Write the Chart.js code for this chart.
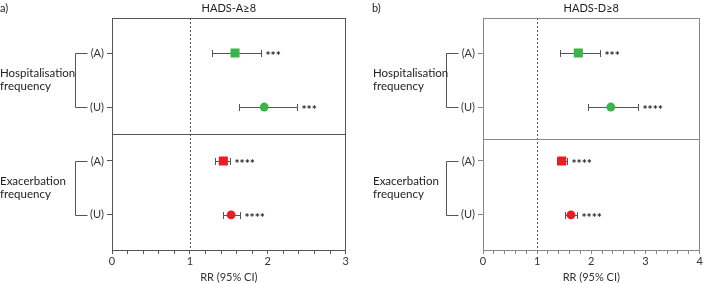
<!DOCTYPE html>
<html>
<head>
<meta charset="utf-8">
<script src="https://cdn.jsdelivr.net/npm/chart.js@4.4.1/dist/chart.umd.min.js"></script>
<style>
  body { margin: 0; background: #fff; }
  #wrap { position: relative; width: 706px; height: 284px; }
  canvas { position: absolute; top: 0; }
</style>
</head>
<body>
<div id="wrap">
  <canvas id="chart-a" width="352" height="284" style="left:0"></canvas>
  <canvas id="chart-b" width="354" height="284" style="left:352px"></canvas>
</div>
<script>
const rowLabels = ['(A)', '(U)', '(A)', '(U)'];
const groupLabels = [['Hospitalisation', 'frequency'], ['Exacerbation', 'frequency']];

// a) HADS-A>=8
const anxietyRR = [1.58, 1.955, 1.43, 1.53];
const anxietyLow = [1.29, 1.625, 1.32, 1.43];
const anxietyHigh = [1.915, 2.37, 1.51, 1.64];
const anxietyStars = ['***', '***', '****', '****'];

// b) HADS-D>=8
const depressionRR = [1.76, 2.36, 1.455, 1.625];
const depressionLow = [1.43, 1.93, 1.36, 1.52];
const depressionHigh = [2.165, 2.87, 1.55, 1.735];
const depressionStars = ['***', '****', '****', '****'];

const FONT = 'Lato, "Noto Sans", sans-serif';
const GREEN = '#3bb54a';
const RED = '#ec1c24';

// draws box, reference line, error bars, stars and the group labels
const forestPlugin = {
    id: 'forest',
    beforeDatasetsDraw(chart) {
        const o = chart.options.plugins.forest;
        const { ctx, chartArea: a, scales } = chart;
        const x = scales.x, y = scales.y;
        ctx.save();

        // dotted line at RR = 1
        ctx.strokeStyle = '#555';
        ctx.lineWidth = 1;
        ctx.setLineDash([2, 2]);
        const x1 = Math.round(x.getPixelForValue(1)) + 0.5;
        ctx.beginPath();
        ctx.moveTo(x1, a.top);
        ctx.lineTo(x1, a.bottom);
        ctx.stroke();
        ctx.setLineDash([]);

        // divider between the two groups
        ctx.strokeStyle = o.boxColor;
        const yd = Math.round(y.getPixelForValue(o.divider)) + 0.5;
        ctx.beginPath();
        ctx.moveTo(a.left, yd);
        ctx.lineTo(a.right, yd);
        ctx.stroke();

        // error bars
        ctx.strokeStyle = '#555';
        o.low.forEach((lo, i) => {
            const py = Math.round(y.getPixelForValue(i)) + 0.5;
            const xl = Math.round(x.getPixelForValue(lo)) + 0.5;
            const xh = Math.round(x.getPixelForValue(o.high[i])) + 0.5;
            ctx.beginPath();
            ctx.moveTo(xl, py); ctx.lineTo(xh, py);
            ctx.moveTo(xl, py - 3.5); ctx.lineTo(xl, py + 3.5);
            ctx.moveTo(xh, py - 3.5); ctx.lineTo(xh, py + 3.5);
            ctx.stroke();

            ctx.fillStyle = '#222';
            ctx.font = 'bold 12px ' + FONT;
            ctx.textBaseline = 'middle';
            ctx.textAlign = 'left';
            ctx.fillText(o.stars[i], xh + 4, py + 3);
        });
        ctx.restore();
    },
    afterDraw(chart) {
        const o = chart.options.plugins.forest;
        const { ctx, chartArea: a, scales } = chart;
        const y = scales.y;
        ctx.save();

        // box round the plot
        ctx.strokeStyle = o.boxColor;
        ctx.lineWidth = 1;
        ctx.strokeRect(Math.round(a.left) + 0.5, Math.round(a.top) + 0.5,
            Math.round(a.right - a.left) - 1, Math.round(a.bottom - a.top));

        // brackets and group names
        ctx.strokeStyle = '#555';
        ctx.fillStyle = '#222';
        ctx.font = '11.5px ' + FONT;
        ctx.textBaseline = 'middle';
        ctx.textAlign = 'left';
        const bx = Math.round(a.left - 37) + 0.5;
        groupLabels.forEach((lines, g) => {
            const y0 = Math.round(y.getPixelForValue(g * 2)) + 0.5;
            const y1 = Math.round(y.getPixelForValue(g * 2 + 1)) + 0.5;
            ctx.beginPath();
            ctx.moveTo(bx + 12, y0); ctx.lineTo(bx, y0);
            ctx.lineTo(bx, y1); ctx.lineTo(bx + 12, y1);
            ctx.stroke();
            const mid = (y0 + y1) / 2;
            ctx.fillText(lines[0], a.left - o.labelOffset, mid - 7);
            ctx.fillText(lines[1], a.left - o.labelOffset, mid + 6);
        });

        // panel letter and title
        ctx.font = '11px ' + FONT;
        ctx.fillText(o.letter, o.letterX, 8);
        ctx.textAlign = 'center';
        ctx.fillText(o.title, (a.left + a.right) / 2, 8);
        ctx.restore();
    }
};

function makePanel(id, cfg) {
    const ctx = document.getElementById(id).getContext('2d');
    return new Chart(ctx, {
        type: 'scatter',
        data: {
            datasets: [{
                data: cfg.rr.map((v, i) => ({ x: v, y: i })),
                pointStyle: ['rect', 'circle', 'rect', 'circle'],
                pointRadius: [6.4, 4.4, 6.4, 4.4],
                pointBackgroundColor: [GREEN, GREEN, RED, RED],
                pointBorderWidth: 0,
                pointHoverRadius: [6.4, 4.4, 6.4, 4.4]
            }]
        },
        options: {
            responsive: false,
            animation: false,
            layout: { padding: { top: 18, right: cfg.padRight, left: 0, bottom: 0 } },
            plugins: {
                legend: { display: false },
                tooltip: { enabled: false },
                forest: {
                    low: cfg.low, high: cfg.high, stars: cfg.stars,
                    divider: cfg.divider, boxColor: cfg.boxColor,
                    title: cfg.title, letter: cfg.letter, letterX: cfg.letterX,
                    labelOffset: cfg.labelOffset
                }
            },
            scales: {
                x: {
                    type: 'linear',
                    min: 0,
                    max: cfg.xMax,
                    afterFit: (s) => { s.height = 34; },
                    ticks: {
                        stepSize: 0.2,
                        autoSkip: false,
                        maxRotation: 0,
                        padding: 1,
                        color: '#333',
                        font: { family: FONT, size: 11 },
                        callback: (v) => Math.abs(v - Math.round(v)) < 1e-6 ? String(Math.round(v)) : ''
                    },
                    grid: { drawOnChartArea: false, tickLength: 4, color: cfg.boxColor },
                    border: { color: cfg.boxColor },
                    title: {
                        display: true,
                        text: 'RR (95% CI)',
                        color: '#333',
                        font: { family: FONT, size: 11 },
                        padding: { top: 0, bottom: 0 }
                    }
                },
                y: {
                    type: 'linear',
                    reverse: true,
                    min: -0.65,
                    max: 3.65,
                    afterFit: (s) => { s.width = cfg.yWidth; },
                    afterBuildTicks: (s) => { s.ticks = rowLabels.map((_, i) => ({ value: i })); },
                    ticks: {
                        padding: 3,
                        color: '#333',
                        font: { family: FONT, size: 11 },
                        callback: (v) => rowLabels[v]
                    },
                    grid: { drawOnChartArea: false, tickLength: 5, color: cfg.boxColor },
                    border: { color: cfg.boxColor }
                }
            }
        },
        plugins: [forestPlugin]
    });
}

makePanel('chart-a', {
    rr: anxietyRR, low: anxietyLow, high: anxietyHigh, stars: anxietyStars,
    xMax: 3, divider: 1.5, boxColor: '#555', title: 'HADS-A≥8',
    letter: 'a)', letterX: 0, yWidth: 112, padRight: 6, labelOffset: 112
});

makePanel('chart-b', {
    rr: depressionRR, low: depressionLow, high: depressionHigh, stars: depressionStars,
    xMax: 4, divider: 1.6, boxColor: '#888', title: 'HADS-D≥8',
    letter: 'b)', letterX: 20, yWidth: 131, padRight: 3, labelOffset: 110
});
</script>
</body>
</html>
